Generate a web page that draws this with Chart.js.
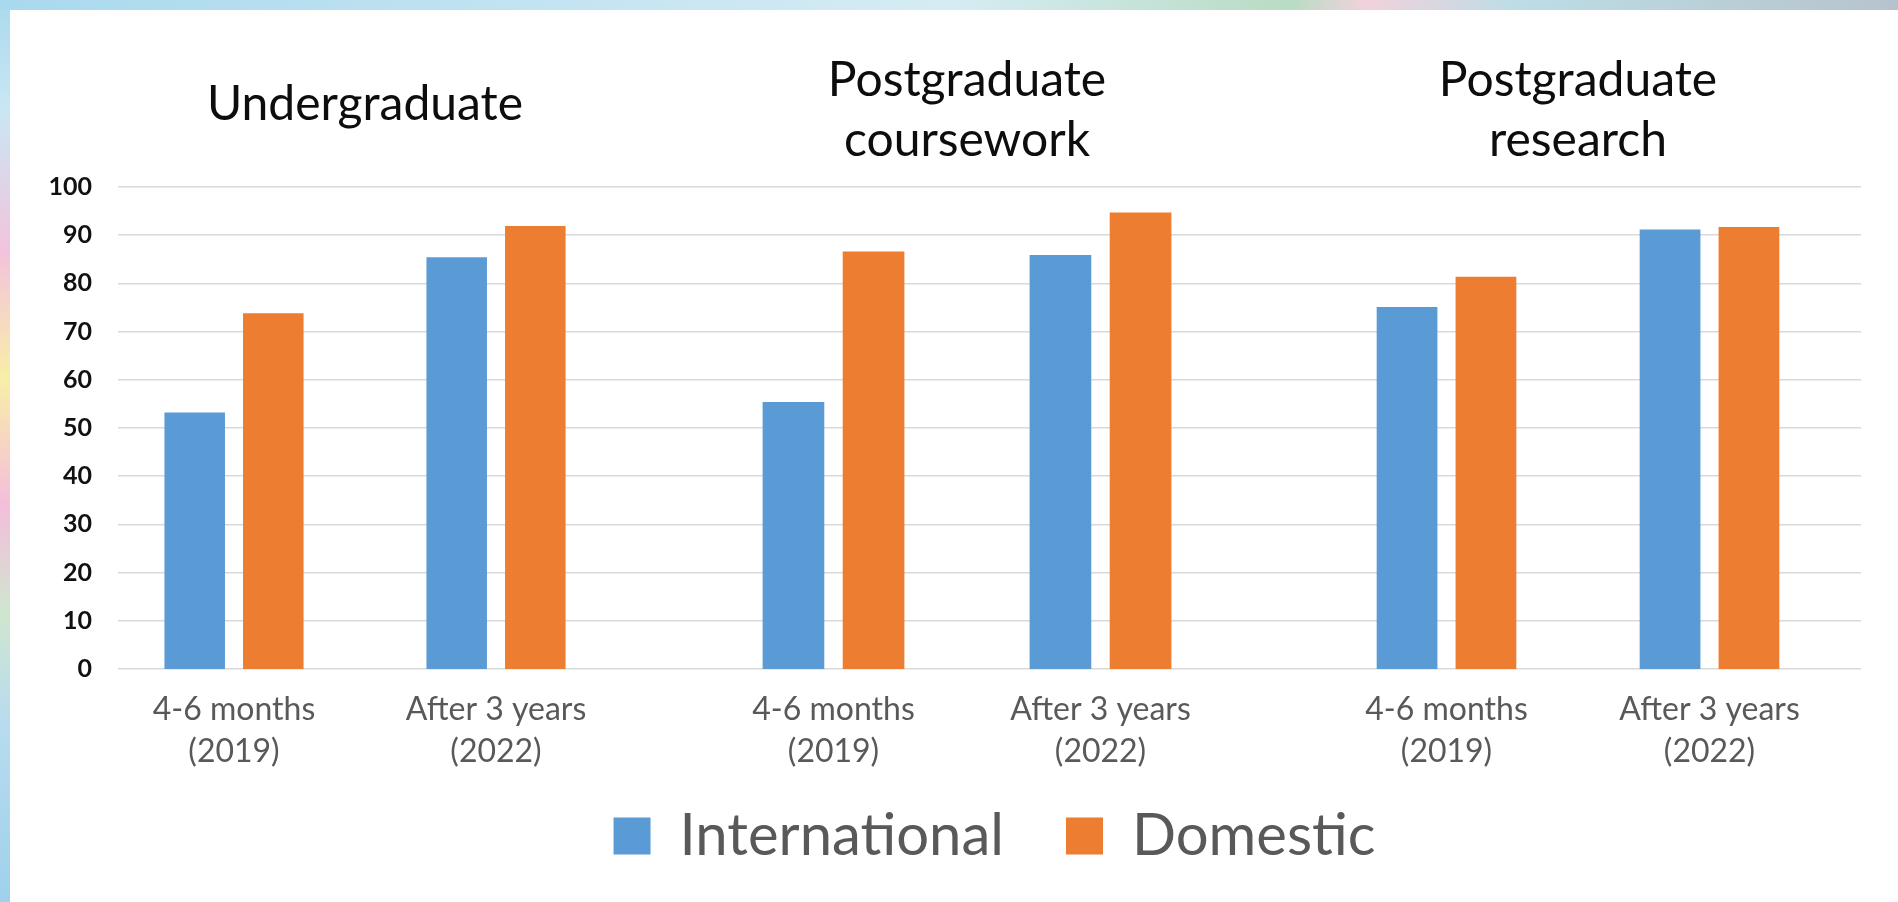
<!DOCTYPE html>
<html>
<head>
<meta charset="utf-8">
<title>Employment outcomes</title>
<script src="https://cdn.jsdelivr.net/npm/chart.js@4/dist/chart.umd.min.js"></script>
<style>
	html, body { margin: 0; padding: 0; }
	body {
		width: 1898px; height: 902px; overflow: hidden; position: relative;
		background: linear-gradient(180deg, #a9d9ee 0%, #c9e7f4 12%, #f3c3dc 28%, #f8eea8 42%, #f4bedb 56%, #cfe6cf 68%, #b8dcef 80%, #9fd1ec 100%);
	}
	#topStrip {
		position: absolute; left: 0; top: 0; width: 1898px; height: 10px;
		background: linear-gradient(90deg, #a9d9ee 0%, #c4e4f2 30%, #d6ecf4 50%, #b9dcc4 68%, #f1d2dc 72%, #bcdde6 80%, #b7c3cc 100%);
	}
	#panel { position: absolute; left: 10px; top: 10px; right: 0; bottom: 0; background: #fff; }
	canvas { position: absolute; left: 0; top: 0; }
</style>
</head>
<body>
<div id="topStrip"></div>
<div id="panel"></div>
<canvas id="axisChart" width="1898" height="902"></canvas>
<canvas id="group0" width="1898" height="902"></canvas>
<canvas id="group1" width="1898" height="902"></canvas>
<canvas id="group2" width="1898" height="902"></canvas>
<script>
const groupTitles = [['Undergraduate'], ['Postgraduate', 'coursework'], ['Postgraduate', 'research']];
const periodLabels = [['4-6 months', '(2019)'], ['After 3 years', '(2022)']];
const seriesNames = ['International', 'Domestic'];
// two values per group: 4-6 months, after 3 years
const international = [53.2, 85.4, 55.4, 85.9, 75.1, 91.2];
const domestic = [73.8, 91.9, 86.6, 94.7, 81.4, 91.7];
const yMin = 0;
const yMax = 100;
const yStep = 10;

const blue = '#5B9BD5';
const orange = '#ED7D31';
const gridColor = '#d9d9d9';

// plot areas in page pixels (the source is three charts pasted side by side)
const axisArea = {left: 128, top: 187, right: 1861, bottom: 669};
const groupAreas = [
	{left: 103, right: 627},
	{left: 700, right: 1234},
	{left: 1315, right: 1841}
];
const titlePadBottom = [52, 16, 16];

Chart.defaults.font.family = 'Lato, "Open Sans", sans-serif';
Chart.defaults.animation = false;

// nudge layout padding until the chart area sits where we want it
function makeChart(id, config, area) {
	const pad = {left: 40, top: 40, right: 40, bottom: 40};
	config.options.layout = {padding: Object.assign({}, pad)};
	const chart = new Chart(document.getElementById(id), config);
	for (let i = 0; i < 3; i++) {
		const a = chart.chartArea;
		pad.left += area.left - a.left;
		pad.right += a.right - area.right;
		pad.top += area.top - a.top;
		pad.bottom += a.bottom - area.bottom;
		chart.options.layout.padding = Object.assign({}, pad);
		chart.update();
	}
	return chart;
}

// y axis, gridlines and legend
makeChart('axisChart', {
	type: 'bar',
	data: {
		labels: [''],
		datasets: [
			{label: seriesNames[0], data: [], backgroundColor: blue},
			{label: seriesNames[1], data: [], backgroundColor: orange}
		]
	},
	options: {
		responsive: false,
		plugins: {
			legend: {
				position: 'bottom',
				fullSize: false,
				labels: {font: {size: 58}, color: '#595959', boxWidth: 37, boxHeight: 37, padding: 62}
			},
			tooltip: {enabled: false}
		},
		scales: {
			x: {
				grid: {display: false},
				border: {display: false},
				ticks: {display: false},
				afterFit: function(scale) { scale.height = 76; }
			},
			y: {
				min: yMin,
				max: yMax,
				ticks: {stepSize: yStep, color: '#111', font: {size: 25, weight: 'bold'}, padding: 26},
				grid: {color: gridColor, lineWidth: 1.5, tickLength: 10},
				border: {display: false}
			}
		}
	}
}, axisArea);

// one bar chart per study level
groupTitles.forEach(function(title, g) {
	makeChart('group' + g, {
		type: 'bar',
		data: {
			labels: periodLabels,
			datasets: [
				{label: seriesNames[0], data: international.slice(g * 2, g * 2 + 2), backgroundColor: blue,
					categoryPercentage: 0.6, barPercentage: 0.77},
				{label: seriesNames[1], data: domestic.slice(g * 2, g * 2 + 2), backgroundColor: orange,
					categoryPercentage: 0.6, barPercentage: 0.77}
			]
		},
		options: {
			responsive: false,
			plugins: {
				legend: {display: false},
				title: {
					display: true,
					text: title,
					fullSize: false,
					color: '#0d0d0d',
					font: {size: 48, weight: 'normal', lineHeight: 1.25},
					padding: {top: 0, bottom: titlePadBottom[g]}
				}
			},
			scales: {
				x: {
					grid: {display: false, drawTicks: false},
					border: {display: false},
					ticks: {color: '#595959', font: {size: 32, lineHeight: 1.3}, padding: 20, maxRotation: 0, autoSkip: false}
				},
				y: {display: false, min: yMin, max: yMax}
			}
		}
	}, Object.assign({top: axisArea.top, bottom: axisArea.bottom}, groupAreas[g]));
});
</script>
</body>
</html>
